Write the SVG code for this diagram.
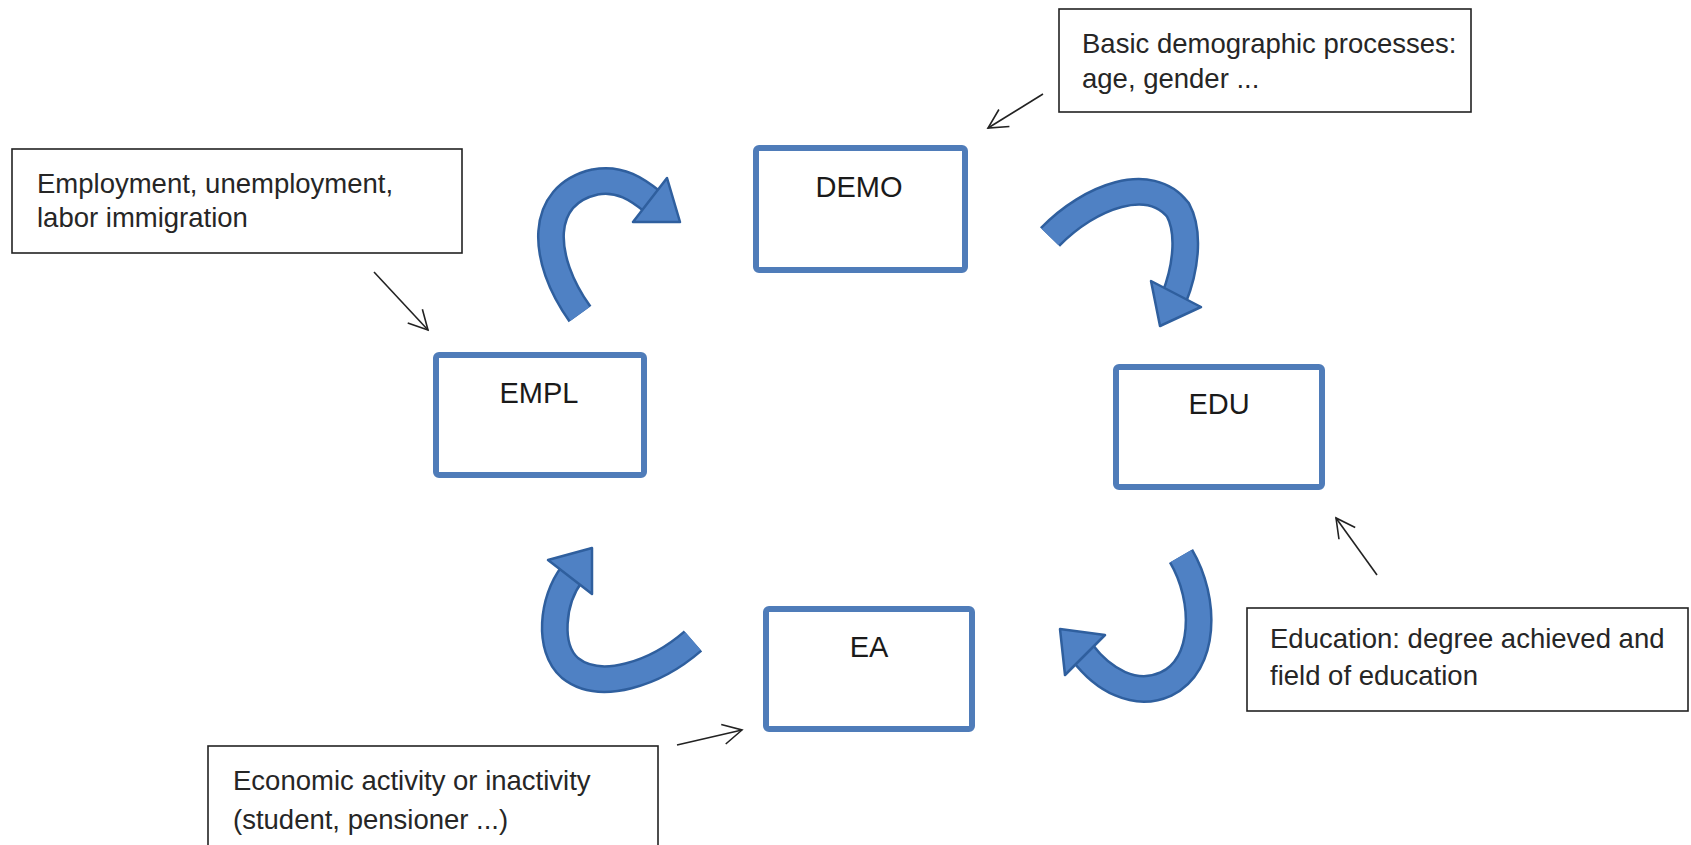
<svg xmlns="http://www.w3.org/2000/svg" width="1691" height="845" viewBox="0 0 1691 845">
<defs>
<style>
.node rect{fill:#fff;stroke:#4f7cb9;stroke-width:6}
.node text{font-family:"Liberation Sans",Arial,sans-serif;font-size:29px;fill:#1a1a1a;text-anchor:middle}
.note rect{fill:#fff;stroke:#222;stroke-width:1.6}
.note text{font-family:"Liberation Sans",Arial,sans-serif;font-size:27.5px;fill:#262626}
.thin{fill:none;stroke:#222;stroke-width:1.6;marker-end:url(#v)}
.bodyO{fill:none;stroke:#2f5f9e;stroke-width:28;stroke-linecap:butt}
.bodyI{fill:none;stroke:#4f81c4;stroke-width:23;stroke-linecap:butt}
.head{fill:#4f81c4;stroke:#2f5f9e;stroke-width:2.5;stroke-linejoin:round}
</style>
<marker id="v" viewBox="0 0 24 24" refX="22" refY="12" markerWidth="24" markerHeight="24" markerUnits="userSpaceOnUse" orient="auto">
<path d="M3,2 L22,12 L3,22" fill="none" stroke="#222" stroke-width="1.6"/>
</marker>
</defs>
<rect width="1691" height="845" fill="#fff"/>

<g id="connectors">
<g id="arrow-empl-demo">
<path class="bodyO" d="M580,314 C540,258 538,195 595,182 C620,177 638,190 653,202"/>
<path class="bodyI" d="M580,314 C540,258 538,195 595,182 C620,177 638,190 653,202"/>
<polygon class="head" points="633,222 667,178 680,222"/>
</g>
<g id="arrow-demo-edu">
<path class="bodyO" d="M1050,237 C1090,196 1150,174 1178,210 C1190,232 1186,268 1174,298"/>
<path class="bodyI" d="M1050,237 C1090,196 1150,174 1178,210 C1190,232 1186,268 1174,298"/>
<polygon class="head" points="1201,307 1151,281 1160,326"/>
</g>
<g id="arrow-edu-ea">
<path class="bodyO" d="M1181,556 C1207,600 1206,665 1166,684 C1135,698 1103,680 1082,652"/>
<path class="bodyI" d="M1181,556 C1207,600 1206,665 1166,684 C1135,698 1103,680 1082,652"/>
<polygon class="head" points="1105,635 1065,675 1060,629"/>
</g>
<g id="arrow-ea-empl">
<path class="bodyO" d="M693,641 C655,674 600,692 570,668 C547,648 552,600 572,574"/>
<path class="bodyI" d="M693,641 C655,674 600,692 570,668 C547,648 552,600 572,574"/>
<polygon class="head" points="592,594 548,560 592,548"/>
</g>
<path class="thin" d="M1043,94 L988,128"/>
<path class="thin" d="M374,272 L428,330"/>
<path class="thin" d="M1377,575 L1336,518"/>
<path class="thin" d="M677,745 L742,730"/>
</g>

<g id="DEMO" class="node"><rect x="756" y="148" width="209" height="122" rx="3"/><text x="859" y="197">DEMO</text></g>
<g id="EMPL" class="node"><rect x="436" y="355" width="208" height="120" rx="3"/><text x="539" y="403">EMPL</text></g>
<g id="EDU" class="node"><rect x="1116" y="367" width="206" height="120" rx="3"/><text x="1219" y="414">EDU</text></g>
<g id="EA" class="node"><rect x="766" y="609" width="206" height="120" rx="3"/><text x="869" y="657">EA</text></g>

<g id="note-demo" class="note"><rect x="1059" y="9" width="412" height="103"/><text x="1082" y="53">Basic demographic processes:</text><text x="1082" y="88">age, gender ...</text></g>
<g id="note-empl" class="note"><rect x="12" y="149" width="450" height="104"/><text x="37" y="193">Employment, unemployment,</text><text x="37" y="227">labor immigration</text></g>
<g id="note-edu" class="note"><rect x="1247" y="608" width="441" height="103"/><text x="1270" y="648">Education: degree achieved and</text><text x="1270" y="685">field of education</text></g>
<g id="note-ea" class="note"><rect x="208" y="746" width="450" height="110"/><text x="233" y="790">Economic activity or inactivity</text><text x="233" y="829">(student, pensioner ...)</text></g>
</svg>
